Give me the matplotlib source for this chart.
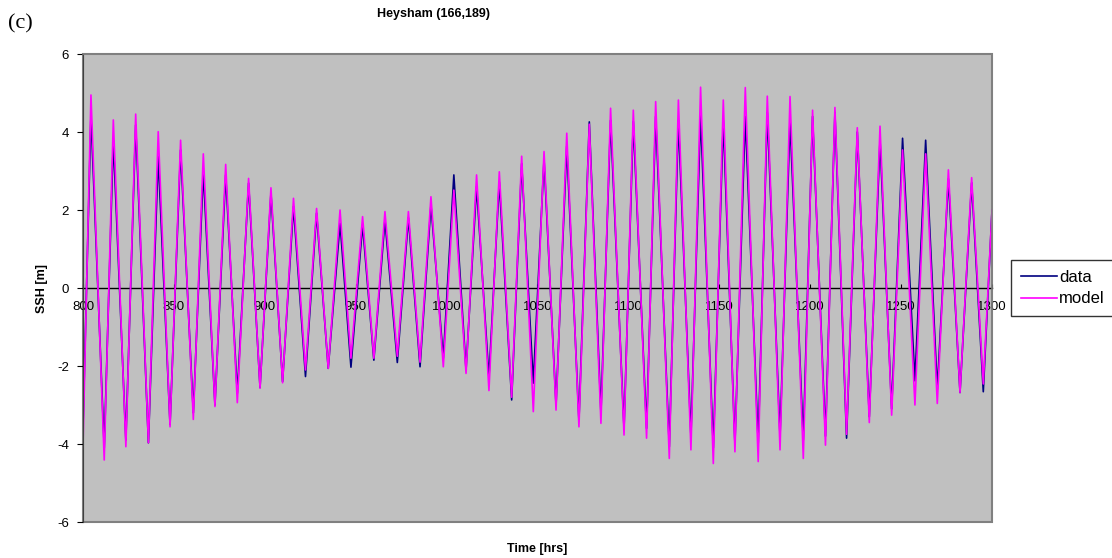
import matplotlib
matplotlib.use('Agg')
import matplotlib.pyplot as plt
import numpy as np

# times of high / low water [hrs]
ext_time = [800, 804.4, 811.7, 816.7, 823.6, 829.0, 836.0, 841.4, 847.9, 853.7,
            860.7, 866.2, 872.6, 878.5, 884.9, 891.1, 897.4, 903.4, 909.8, 915.8,
            922.4, 928.5, 934.9, 941.4, 947.4, 953.8, 960.0, 966.1, 972.9, 979.0,
            985.4, 991.4, 998.2, 1004.0, 1010.7, 1016.5, 1023.3, 1029.0, 1035.8, 1041.3,
            1047.7, 1053.6, 1060.2, 1066.1, 1072.8, 1078.5, 1084.9, 1090.2, 1097.6, 1102.7,
            1110.0, 1115.0, 1122.5, 1127.5, 1134.4, 1139.7, 1146.7, 1152.2, 1158.6, 1164.3,
            1171.4, 1176.4, 1183.4, 1188.9, 1196.2, 1201.3, 1208.4, 1213.6, 1220.0, 1225.9,
            1232.5, 1238.4, 1244.8, 1250.8, 1257.6, 1263.5, 1269.9, 1276.0, 1282.4, 1288.8,
            1295.2, 1300]

# observed SSH at those times [m]
data_ssh = [-3.6, 4.44, -4.1, 3.79, -3.9, 4.18, -3.97, 3.37, -3.5, 3.54,
            -3.2, 2.98, -3.0, 2.9, -2.7, 2.69, -2.55, 2.43, -2.4, 2.09,
            -2.27, 1.92, -2.06, 1.66, -2.03, 1.62, -1.85, 1.74, -1.91, 1.8,
            -2.02, 2.13, -1.8, 2.9, -2.1, 2.6, -2.3, 2.72, -2.87, 3.19,
            -2.44, 3.3, -3.0, 3.64, -3.4, 4.26, -3.2, 4.3, -3.6, 4.27,
            -3.6, 4.4, -4.07, 4.3, -3.8, 4.44, -4.1, 4.3, -4.0, 4.4,
            -3.97, 4.5, -3.8, 4.3, -3.9, 4.4, -3.8, 4.5, -3.85, 4.0,
            -3.3, 3.8, -3.1, 3.84, -2.38, 3.79, -2.6, 2.8, -2.68, 2.7,
            -2.66, 2.0]

# modelled SSH at those times [m]
model_ssh = [-4.1, 4.95, -4.41, 4.31, -4.07, 4.46, -3.97, 4.01, -3.56, 3.79,
             -3.37, 3.44, -3.04, 3.17, -2.94, 2.81, -2.57, 2.57, -2.43, 2.30,
             -2.10, 2.04, -2.06, 2.0, -1.80, 1.83, -1.80, 1.96, -1.75, 1.96,
             -1.90, 2.34, -2.02, 2.51, -2.19, 2.90, -2.63, 2.98, -2.80, 3.38,
             -3.17, 3.50, -3.13, 3.97, -3.56, 4.20, -3.47, 4.61, -3.77, 4.56,
             -3.85, 4.78, -4.37, 4.82, -4.15, 5.15, -4.50, 4.82, -4.20, 5.14,
             -4.45, 4.92, -4.15, 4.91, -4.37, 4.56, -4.03, 4.63, -3.75, 4.11,
             -3.45, 4.15, -3.26, 3.54, -3.00, 3.44, -2.96, 3.03, -2.68, 2.83,
             -2.46, 2.0]

x_ticks = np.arange(800, 1301, 50)
y_ticks = np.arange(-6, 7, 2)

plt.rcParams['font.family'] = ['Liberation Sans', 'DejaVu Sans']
plt.rcParams['axes.unicode_minus'] = False

fig = plt.figure(figsize=(11.12, 5.58), dpi=100)
ax = fig.add_axes([0.0746, 0.0645, 0.8175, 0.8387])
ax.set_facecolor('#C0C0C0')

ax.plot(ext_time, data_ssh, color='#000080', lw=1.2, label='data',
        solid_joinstyle='round')
ax.plot(ext_time, model_ssh, color='#FF00FF', lw=1.2, label='model',
        solid_joinstyle='round')

ax.set_xlim(800, 1300)
ax.set_ylim(-6, 6)
ax.set_xticks(x_ticks)
ax.set_yticks(y_ticks)

# x axis crosses at zero like the spreadsheet chart
ax.spines['bottom'].set_position(('data', 0))
ax.spines['bottom'].set_color('black')
ax.spines['bottom'].set_linewidth(1.0)
ax.spines['bottom'].set_zorder(1)
ax.spines['left'].set_color('#404040')
for s in ['top', 'right']:
    ax.spines[s].set_color('#808080')
    ax.spines[s].set_linewidth(1.2)
ax.add_patch(plt.Rectangle((0, 0), 1, 1, transform=ax.transAxes, fill=False,
                           edgecolor='#808080', lw=1.5, clip_on=False, zorder=0.5))

ax.tick_params(axis='x', direction='in', length=3, pad=9, labelsize=9.5)
ax.tick_params(axis='y', direction='out', length=4, pad=6, labelsize=9.5)

ax.set_xlabel('Time [hrs]', fontsize=9, fontweight='bold')
ax.xaxis.set_label_coords(0.5, -0.045)
ax.set_ylabel('SSH [m]', fontsize=9, fontweight='bold')
ax.yaxis.set_label_coords(-0.038, 0.5)

fig.text(0.39, 0.975, 'Heysham (166,189)', ha='center', va='center',
         fontsize=9, fontweight='bold')
fig.text(0.007, 0.958, '(c)', ha='left', va='center', fontsize=16,
         family=['Liberation Serif', 'DejaVu Serif'])

leg = ax.legend(loc='center left', bbox_to_anchor=(1.015, 0.5), fontsize=12,
                frameon=True, fancybox=False, handlelength=2.2, handletextpad=0.1,
                borderpad=0.6, labelspacing=0.4, borderaxespad=0.3)
leg.get_frame().set_edgecolor('black')
leg.get_frame().set_linewidth(1.0)

fig.savefig('out.png', dpi=100)
